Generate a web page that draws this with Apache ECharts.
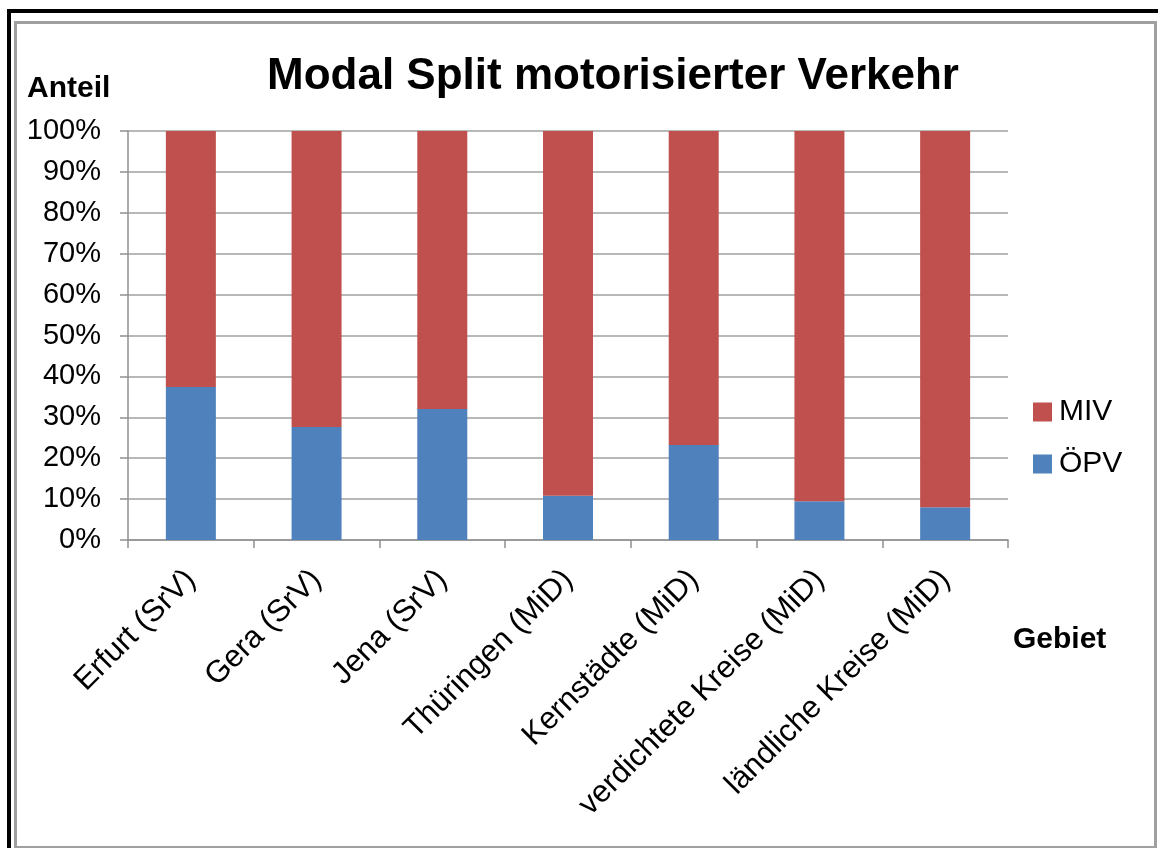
<!DOCTYPE html>
<html>
<head>
<meta charset="utf-8">
<script src="https://cdn.jsdelivr.net/npm/echarts@6/dist/echarts.min.js"></script>
<style>
  html, body { margin: 0; padding: 0; background: #fff; }
  #wrap { position: relative; width: 1158px; height: 848px; overflow: hidden; }
  #outer { position: absolute; left: 7px; top: 9px; width: 1200px; height: 900px; border-left: 4px solid #000; border-top: 4px solid #000; }
  #inner { position: absolute; left: 14px; top: 21px; width: 1137px; height: 822px; border: 3px solid #a0a0a0; }
  #main { position: absolute; left: 0; top: 0; width: 1158px; height: 848px; }
</style>
</head>
<body>
<div id="wrap">
  <div id="outer"></div>
  <div id="inner"></div>
  <div id="main"></div>
</div>
<script>
var categories = ['Erfurt (SrV)', 'Gera (SrV)', 'Jena (SrV)', 'Thüringen (MiD)', 'Kernstädte (MiD)', 'verdichtete Kreise (MiD)', 'ländliche Kreise (MiD)'];
var opv = [37.4, 27.6, 32.0, 10.8, 23.2, 9.5, 8.0];
var miv = [62.6, 72.4, 68.0, 89.2, 76.8, 90.5, 92.0];

var font = "'Liberation Sans', Arial, sans-serif";
var chart = echarts.init(document.getElementById('main'));

var option = {
    animation: false,
    title: {
        text: 'Modal Split motorisierter Verkehr',
        left: 262,
        top: 50,
        textStyle: { fontFamily: font, fontSize: 44, fontWeight: 'bold', color: '#000' }
    },
    legend: {
        data: ['MIV', 'ÖPV'],
        orient: 'vertical',
        left: 1028,
        top: 392,
        icon: 'rect',
        itemWidth: 19,
        itemHeight: 19,
        itemGap: 22,
        textStyle: { fontFamily: font, fontSize: 30, color: '#000', padding: [0, 0, 0, 2] }
    },
    grid: { left: 128, right: 150, top: 131, bottom: 308 },
    xAxis: {
        type: 'category',
        data: categories,
        axisLine: { lineStyle: { color: '#909090', width: 1.5 } },
        axisTick: { show: true, length: 8, lineStyle: { color: '#909090', width: 1.5 } },
        axisLabel: { rotate: 45, margin: 35, fontFamily: font, fontSize: 31, color: '#000' }
    },
    yAxis: {
        type: 'value',
        min: 0,
        max: 100,
        interval: 10,
        axisLine: { show: true, lineStyle: { color: '#909090', width: 1.5 } },
        axisTick: { show: true, length: 8, lineStyle: { color: '#909090', width: 1.5 } },
        splitLine: { lineStyle: { color: '#a0a0a0', width: 1.5 } },
        axisLabel: { formatter: '{value}%', margin: 27, fontFamily: font, fontSize: 29, color: '#000' }
    },
    graphic: [
        { type: 'text', left: 27, top: 74, style: { text: 'Anteil', font: 'bold 30px ' + font, fill: '#000' } },
        { type: 'text', left: 1013, top: 625, style: { text: 'Gebiet', font: 'bold 30px ' + font, fill: '#000' } }
    ],
    series: [
        { name: 'ÖPV', type: 'bar', stack: 'total', barWidth: 50, data: opv, itemStyle: { color: '#4F81BD' } },
        { name: 'MIV', type: 'bar', stack: 'total', barWidth: 50, data: miv, itemStyle: { color: '#C0504D' } }
    ]
};
chart.setOption(option);
</script>
</body>
</html>
